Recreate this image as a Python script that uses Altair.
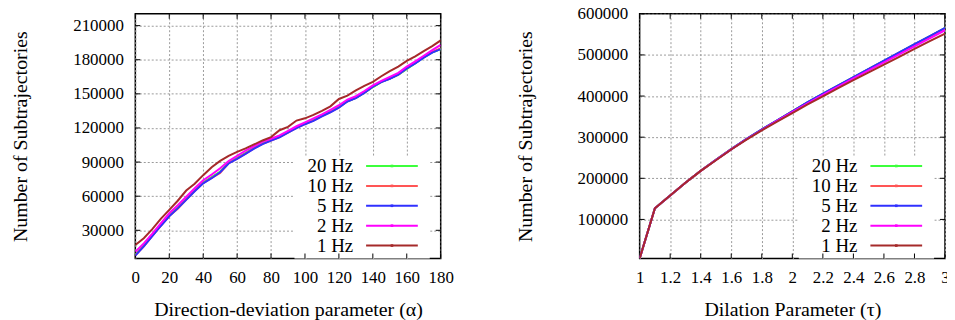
import altair as alt
import pandas as pd

# ---------------- data ----------------
series_names = ["20 Hz", "10 Hz", "5 Hz", "2 Hz", "1 Hz"]
series_colors = ["#3cff3c", "#ff5555", "#3030ff", "#ff00ff", "#a52a2a"]

alpha = [0, 5, 10, 15, 20, 25, 30, 35, 40, 45, 50, 55, 60, 65, 70, 75, 80, 85,
         90, 95, 100, 105, 110, 115, 120, 125, 130, 135, 140, 145, 150, 155,
         160, 165, 170, 175, 180]

a_20hz = [8500, 16500, 25500, 34500, 43000, 50000, 57500, 65000, 72000, 76500,
          81500, 89500, 93500, 98000, 102500, 106500, 109500, 112500, 116500,
          120500, 124000, 127000, 131000, 134500, 138500, 143500, 146500,
          151000, 156000, 160500, 163500, 167000, 172000, 177000, 182000,
          186500, 189500]
a_10hz = [8000, 16000, 25000, 34000, 42500, 49000, 57000, 64500, 71500, 76000,
          80500, 89000, 93000, 97500, 102000, 106000, 109000, 112000, 116000,
          120000, 123500, 126500, 130500, 134000, 138000, 143500, 146500,
          151000, 156500, 160500, 163500, 167000, 172500, 177500, 182500,
          187000, 190000]
a_5hz = [7800, 15800, 24800, 33800, 42300, 49300, 56800, 64300, 71300, 75800,
         81000, 88800, 92800, 97300, 101800, 105800, 108800, 111800, 115800,
         119800, 123300, 126300, 130300, 133800, 137800, 143300, 146300,
         150800, 156300, 160300, 163300, 166800, 172300, 176800, 181800,
         186300, 189300]
a_2hz = [11000, 18500, 27000, 36000, 45000, 52000, 59500, 67000, 74000, 79000,
         84500, 91000, 95500, 100000, 104000, 108000, 110500, 113500, 117500,
         121500, 125000, 128500, 132000, 136000, 140000, 145000, 148000,
         152500, 157500, 161500, 165000, 168500, 174000, 178500, 183500,
         188500, 193000]
a_1hz = [17000, 23000, 31000, 40000, 48000, 56000, 65000, 71000, 78500, 85500,
         91000, 95500, 99000, 102000, 105500, 109000, 112000, 118000, 121000,
         126500, 128500, 131500, 135000, 139000, 145500, 148500, 153000,
         157000, 160500, 165500, 170000, 174000, 179000, 183000, 187500,
         192000, 197000]

tau = [1.0, 1.1, 1.2, 1.3, 1.4, 1.5, 1.6, 1.7, 1.8, 1.9, 2.0, 2.1, 2.2, 2.3,
       2.4, 2.5, 2.6, 2.7, 2.8, 2.9, 3.0]

t_20hz = [5000, 127000, 158000, 189000, 218000, 245000, 271000, 295500, 318500,
          340500, 362500, 384500, 405500, 425500, 445500, 465500, 485500,
          505500, 525500, 545000, 565000]
t_10hz = [5000, 127000, 158000, 189000, 218000, 245000, 271000, 295500, 318500,
          340500, 362500, 384000, 405000, 425000, 445000, 465500, 485000,
          505000, 525000, 544500, 564500]
t_5hz = [5000, 127000, 158000, 189000, 218500, 245000, 271000, 296000, 319000,
         341000, 363000, 385000, 406000, 426000, 446000, 466000, 486000,
         506000, 526000, 546000, 566000]
t_2hz = [5000, 127000, 158000, 189000, 218000, 244500, 270500, 295000, 317500,
         339500, 361000, 382500, 403000, 423000, 443000, 462500, 482000,
         501500, 521000, 540500, 560000]
t_1hz = [5000, 127000, 158000, 189000, 218000, 244000, 270000, 294000, 316500,
         338000, 358500, 379500, 399500, 419000, 438500, 457500, 476500,
         495500, 514500, 533500, 552000]

alpha_ticks = [0, 20, 40, 60, 80, 100, 120, 140, 160, 180]
alpha_yticks = [30000, 60000, 90000, 120000, 150000, 180000, 210000]
tau_ticks = [1, 1.2, 1.4, 1.6, 1.8, 2, 2.2, 2.4, 2.6, 2.8, 3]
tau_yticks = [100000, 200000, 300000, 400000, 500000, 600000]

FONT = "'Liberation Serif', 'Times New Roman', Times, serif"


def long_df(xs, cols):
    rows = []
    for name, vals in zip(series_names, cols):
        for x, y in zip(xs, vals):
            rows.append({"x": x, "y": y, "series": name})
    return pd.DataFrame(rows)


df_a = long_df(alpha, [a_20hz, a_10hz, a_5hz, a_2hz, a_1hz])
df_t = long_df(tau, [t_20hz, t_10hz, t_5hz, t_2hz, t_1hz])

legend_df = pd.DataFrame({"series": series_names,
                          "row": list(range(len(series_names)))})

color_scale = alt.Scale(domain=series_names, range=series_colors)
width_scale = alt.Scale(domain=series_names, range=[2, 2, 2, 1.4, 1.2])

W, H = 307, 246
TK = 5  # inward tick length

AXIS_STYLE = dict(labelFont=FONT, titleFont=FONT, labelFontSize=17,
                  titleFontSize=20, labelColor="black", titleColor="black",
                  titleFontWeight="normal", grid=True, gridColor="#9a9a9a",
                  gridDash=[2, 2], gridWidth=1, domain=False, ticks=False,
                  labelOverlap=False, labelFlush=False)


def panel(df, xtitle, xdomain, xticks, ydomain, yticks):
    xenc = alt.X("x:Q", scale=alt.Scale(domain=xdomain, nice=False, zero=False),
                 axis=alt.Axis(values=xticks, title=xtitle, format="~r",
                               labelPadding=11, titlePadding=14, **AXIS_STYLE))
    yenc = alt.Y("y:Q", scale=alt.Scale(domain=ydomain, nice=False, zero=False),
                 axis=alt.Axis(values=yticks, title="Number of Subtrajectories",
                               format="d", labelPadding=12, titlePadding=42,
                               **AXIS_STYLE))

    box = alt.Chart(pd.DataFrame({"a": [0]})).mark_rect(fill="white").encode(
        x=alt.value(160), x2=alt.value(296), y=alt.value(143), y2=alt.value(H))

    line_layers = []
    for name in series_names:
        line_layers.append(
            alt.Chart(df).transform_filter(alt.datum.series == name)
            .mark_line(clip=True)
            .encode(
                x=xenc, y=yenc,
                color=alt.Color("series:N", scale=color_scale, legend=None),
                strokeWidth=alt.StrokeWidth("series:N", scale=width_scale, legend=None),
            )
        )

    # inward tick marks on all four sides (gnuplot style)
    xt = alt.Chart(pd.DataFrame({"x": xticks}))
    yt = alt.Chart(pd.DataFrame({"y": yticks}))
    tick_layers = [
        xt.mark_rule(color="black", strokeWidth=1).encode(
            x=xenc, y=alt.value(H), y2=alt.value(H - TK)),
        xt.mark_rule(color="black", strokeWidth=1).encode(
            x=xenc, y=alt.value(0), y2=alt.value(TK)),
        yt.mark_rule(color="black", strokeWidth=1).encode(
            y=yenc, x=alt.value(0), x2=alt.value(TK)),
        yt.mark_rule(color="black", strokeWidth=1).encode(
            y=yenc, x=alt.value(W), x2=alt.value(W - TK)),
    ]

    leg = alt.Chart(legend_df).transform_calculate(ly="153 + datum.row * 20")
    leg_text = leg.mark_text(align="right", baseline="middle", font=FONT,
                             fontSize=19, color="black").encode(
        x=alt.value(219), y=alt.Y("ly:Q", scale=None, axis=None), text="series:N")
    leg_rule = leg.mark_rule().encode(
        x=alt.value(232), x2=alt.value(284), y=alt.Y("ly:Q", scale=None, axis=None),
        color=alt.Color("series:N", scale=color_scale, legend=None),
        strokeWidth=alt.StrokeWidth("series:N", scale=width_scale, legend=None))
    leg_pt = leg.mark_point(shape="square", filled=True, size=7, opacity=1).encode(
        x=alt.value(258), y=alt.Y("ly:Q", scale=None, axis=None),
        color=alt.Color("series:N", scale=color_scale, legend=None))

    return alt.layer(*line_layers[:1], box, *tick_layers, *line_layers, leg_rule,
                     leg_pt, leg_text).properties(width=W, height=H)


left = panel(df_a, "Direction-deviation parameter (\u03b1)", [0, 180], alpha_ticks,
             [5200, 220400], alpha_yticks)
right = panel(df_t, "Dilation Parameter (\u03c4)", [1, 3], tau_ticks,
              [5000, 600000], tau_yticks)

chart = alt.hconcat(left, right, spacing=60).properties(
    padding={"left": 2, "top": -5, "right": -3, "bottom": 0}
).configure_view(
    stroke="black", strokeWidth=1.5
)

chart.save("out.html", embed_options={"renderer": "svg", "actions": False})
